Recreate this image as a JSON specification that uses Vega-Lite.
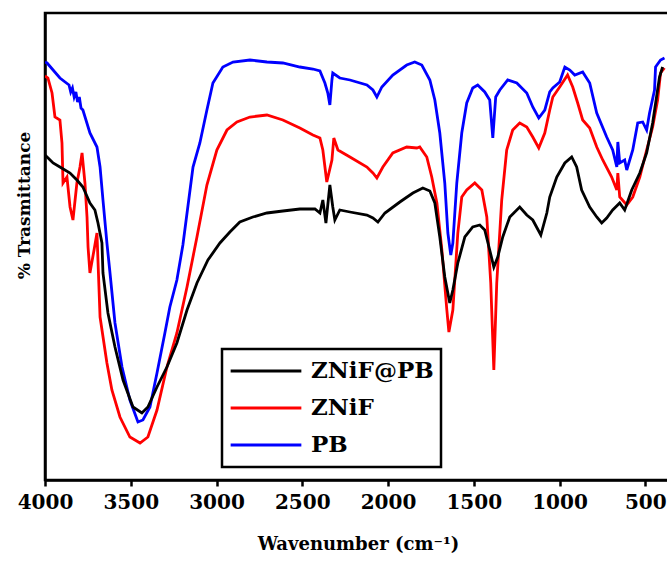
{
  "$schema": "https://vega.github.io/schema/vega-lite/v6.json",
  "width": 626,
  "height": 467,
  "autosize": {"type": "none"},
  "padding": {"left": 45, "top": 13, "right": 0, "bottom": 81},
  "background": "white",
  "config": {
    "view": {"stroke": "black", "strokeWidth": 2.5}
  },
  "datasets": {
    "spec": [
      {"s": "PB", "wn": 4000, "t": 418}, {"s": "PB", "wn": 3988, "t": 417}, {"s": "PB", "wn": 3913, "t": 402},
      {"s": "PB", "wn": 3860, "t": 395}, {"s": "PB", "wn": 3850, "t": 388}, {"s": "PB", "wn": 3840, "t": 392},
      {"s": "PB", "wn": 3830, "t": 383}, {"s": "PB", "wn": 3820, "t": 388}, {"s": "PB", "wn": 3810, "t": 378},
      {"s": "PB", "wn": 3800, "t": 383}, {"s": "PB", "wn": 3790, "t": 372}, {"s": "PB", "wn": 3779, "t": 370},
      {"s": "PB", "wn": 3738, "t": 347}, {"s": "PB", "wn": 3697, "t": 333}, {"s": "PB", "wn": 3679, "t": 313},
      {"s": "PB", "wn": 3662, "t": 280}, {"s": "PB", "wn": 3639, "t": 237}, {"s": "PB", "wn": 3621, "t": 207},
      {"s": "PB", "wn": 3592, "t": 157}, {"s": "PB", "wn": 3551, "t": 113}, {"s": "PB", "wn": 3505, "t": 80},
      {"s": "PB", "wn": 3458, "t": 58}, {"s": "PB", "wn": 3429, "t": 60}, {"s": "PB", "wn": 3388, "t": 73},
      {"s": "PB", "wn": 3347, "t": 107}, {"s": "PB", "wn": 3301, "t": 147}, {"s": "PB", "wn": 3272, "t": 173},
      {"s": "PB", "wn": 3231, "t": 200}, {"s": "PB", "wn": 3196, "t": 235}, {"s": "PB", "wn": 3137, "t": 313},
      {"s": "PB", "wn": 3097, "t": 337}, {"s": "PB", "wn": 3056, "t": 370}, {"s": "PB", "wn": 3021, "t": 397},
      {"s": "PB", "wn": 2963, "t": 413}, {"s": "PB", "wn": 2904, "t": 418}, {"s": "PB", "wn": 2805, "t": 420},
      {"s": "PB", "wn": 2706, "t": 418}, {"s": "PB", "wn": 2613, "t": 417}, {"s": "PB", "wn": 2514, "t": 413},
      {"s": "PB", "wn": 2438, "t": 411}, {"s": "PB", "wn": 2397, "t": 409}, {"s": "PB", "wn": 2368, "t": 397},
      {"s": "PB", "wn": 2351, "t": 387}, {"s": "PB", "wn": 2339, "t": 375}, {"s": "PB", "wn": 2327, "t": 400},
      {"s": "PB", "wn": 2322, "t": 407}, {"s": "PB", "wn": 2281, "t": 402}, {"s": "PB", "wn": 2222, "t": 400},
      {"s": "PB", "wn": 2123, "t": 395}, {"s": "PB", "wn": 2088, "t": 390}, {"s": "PB", "wn": 2065, "t": 383},
      {"s": "PB", "wn": 2036, "t": 393}, {"s": "PB", "wn": 1972, "t": 405}, {"s": "PB", "wn": 1891, "t": 415},
      {"s": "PB", "wn": 1844, "t": 418}, {"s": "PB", "wn": 1803, "t": 415}, {"s": "PB", "wn": 1756, "t": 400},
      {"s": "PB", "wn": 1727, "t": 380}, {"s": "PB", "wn": 1698, "t": 347}, {"s": "PB", "wn": 1669, "t": 297},
      {"s": "PB", "wn": 1651, "t": 247}, {"s": "PB", "wn": 1634, "t": 225}, {"s": "PB", "wn": 1622, "t": 237},
      {"s": "PB", "wn": 1599, "t": 297}, {"s": "PB", "wn": 1570, "t": 347}, {"s": "PB", "wn": 1541, "t": 377},
      {"s": "PB", "wn": 1506, "t": 392}, {"s": "PB", "wn": 1477, "t": 395}, {"s": "PB", "wn": 1436, "t": 388},
      {"s": "PB", "wn": 1407, "t": 380}, {"s": "PB", "wn": 1389, "t": 342}, {"s": "PB", "wn": 1372, "t": 383},
      {"s": "PB", "wn": 1348, "t": 390}, {"s": "PB", "wn": 1302, "t": 400}, {"s": "PB", "wn": 1249, "t": 397},
      {"s": "PB", "wn": 1191, "t": 387}, {"s": "PB", "wn": 1156, "t": 373}, {"s": "PB", "wn": 1121, "t": 362},
      {"s": "PB", "wn": 1086, "t": 370}, {"s": "PB", "wn": 1057, "t": 388}, {"s": "PB", "wn": 1039, "t": 392},
      {"s": "PB", "wn": 999, "t": 398}, {"s": "PB", "wn": 969, "t": 413}, {"s": "PB", "wn": 940, "t": 410},
      {"s": "PB", "wn": 911, "t": 405}, {"s": "PB", "wn": 865, "t": 408}, {"s": "PB", "wn": 824, "t": 397},
      {"s": "PB", "wn": 783, "t": 367}, {"s": "PB", "wn": 725, "t": 343}, {"s": "PB", "wn": 690, "t": 330},
      {"s": "PB", "wn": 666, "t": 313}, {"s": "PB", "wn": 660, "t": 338}, {"s": "PB", "wn": 649, "t": 317},
      {"s": "PB", "wn": 620, "t": 320}, {"s": "PB", "wn": 608, "t": 310}, {"s": "PB", "wn": 573, "t": 330},
      {"s": "PB", "wn": 544, "t": 357}, {"s": "PB", "wn": 515, "t": 358}, {"s": "PB", "wn": 492, "t": 350},
      {"s": "PB", "wn": 475, "t": 367}, {"s": "PB", "wn": 446, "t": 390}, {"s": "PB", "wn": 440, "t": 413},
      {"s": "PB", "wn": 411, "t": 420}, {"s": "PB", "wn": 388, "t": 422},

      {"s": "ZNiF", "wn": 4000, "t": 404}, {"s": "ZNiF", "wn": 3983, "t": 402}, {"s": "ZNiF", "wn": 3959, "t": 387},
      {"s": "ZNiF", "wn": 3942, "t": 363}, {"s": "ZNiF", "wn": 3913, "t": 360}, {"s": "ZNiF", "wn": 3901, "t": 337},
      {"s": "ZNiF", "wn": 3895, "t": 297}, {"s": "ZNiF", "wn": 3872, "t": 303}, {"s": "ZNiF", "wn": 3854, "t": 273},
      {"s": "ZNiF", "wn": 3837, "t": 260}, {"s": "ZNiF", "wn": 3814, "t": 297}, {"s": "ZNiF", "wn": 3796, "t": 313},
      {"s": "ZNiF", "wn": 3784, "t": 327}, {"s": "ZNiF", "wn": 3767, "t": 297}, {"s": "ZNiF", "wn": 3755, "t": 263},
      {"s": "ZNiF", "wn": 3749, "t": 233}, {"s": "ZNiF", "wn": 3738, "t": 207}, {"s": "ZNiF", "wn": 3714, "t": 230},
      {"s": "ZNiF", "wn": 3697, "t": 247}, {"s": "ZNiF", "wn": 3679, "t": 163}, {"s": "ZNiF", "wn": 3639, "t": 117},
      {"s": "ZNiF", "wn": 3610, "t": 90}, {"s": "ZNiF", "wn": 3563, "t": 63}, {"s": "ZNiF", "wn": 3505, "t": 43},
      {"s": "ZNiF", "wn": 3446, "t": 37}, {"s": "ZNiF", "wn": 3400, "t": 43}, {"s": "ZNiF", "wn": 3347, "t": 70},
      {"s": "ZNiF", "wn": 3289, "t": 113}, {"s": "ZNiF", "wn": 3231, "t": 147}, {"s": "ZNiF", "wn": 3172, "t": 193},
      {"s": "ZNiF", "wn": 3114, "t": 243}, {"s": "ZNiF", "wn": 3056, "t": 295}, {"s": "ZNiF", "wn": 2998, "t": 330},
      {"s": "ZNiF", "wn": 2939, "t": 350}, {"s": "ZNiF", "wn": 2881, "t": 358}, {"s": "ZNiF", "wn": 2805, "t": 363},
      {"s": "ZNiF", "wn": 2706, "t": 365}, {"s": "ZNiF", "wn": 2613, "t": 360}, {"s": "ZNiF", "wn": 2514, "t": 352},
      {"s": "ZNiF", "wn": 2438, "t": 345}, {"s": "ZNiF", "wn": 2397, "t": 342}, {"s": "ZNiF", "wn": 2380, "t": 330},
      {"s": "ZNiF", "wn": 2357, "t": 298}, {"s": "ZNiF", "wn": 2327, "t": 320}, {"s": "ZNiF", "wn": 2316, "t": 342},
      {"s": "ZNiF", "wn": 2292, "t": 330}, {"s": "ZNiF", "wn": 2222, "t": 323}, {"s": "ZNiF", "wn": 2123, "t": 313},
      {"s": "ZNiF", "wn": 2088, "t": 307}, {"s": "ZNiF", "wn": 2065, "t": 302}, {"s": "ZNiF", "wn": 2030, "t": 313},
      {"s": "ZNiF", "wn": 1972, "t": 327}, {"s": "ZNiF", "wn": 1891, "t": 333}, {"s": "ZNiF", "wn": 1832, "t": 332},
      {"s": "ZNiF", "wn": 1815, "t": 333}, {"s": "ZNiF", "wn": 1774, "t": 323}, {"s": "ZNiF", "wn": 1745, "t": 303},
      {"s": "ZNiF", "wn": 1715, "t": 277}, {"s": "ZNiF", "wn": 1686, "t": 230}, {"s": "ZNiF", "wn": 1657, "t": 170},
      {"s": "ZNiF", "wn": 1645, "t": 148}, {"s": "ZNiF", "wn": 1622, "t": 170}, {"s": "ZNiF", "wn": 1593, "t": 247},
      {"s": "ZNiF", "wn": 1570, "t": 283}, {"s": "ZNiF", "wn": 1541, "t": 290}, {"s": "ZNiF", "wn": 1494, "t": 297},
      {"s": "ZNiF", "wn": 1453, "t": 290}, {"s": "ZNiF", "wn": 1424, "t": 263}, {"s": "ZNiF", "wn": 1401, "t": 197},
      {"s": "ZNiF", "wn": 1383, "t": 110}, {"s": "ZNiF", "wn": 1366, "t": 197}, {"s": "ZNiF", "wn": 1337, "t": 280},
      {"s": "ZNiF", "wn": 1308, "t": 330}, {"s": "ZNiF", "wn": 1273, "t": 350}, {"s": "ZNiF", "wn": 1232, "t": 357},
      {"s": "ZNiF", "wn": 1191, "t": 353}, {"s": "ZNiF", "wn": 1156, "t": 343}, {"s": "ZNiF", "wn": 1121, "t": 332},
      {"s": "ZNiF", "wn": 1086, "t": 347}, {"s": "ZNiF", "wn": 1057, "t": 370}, {"s": "ZNiF", "wn": 1039, "t": 383},
      {"s": "ZNiF", "wn": 999, "t": 393}, {"s": "ZNiF", "wn": 953, "t": 405}, {"s": "ZNiF", "wn": 923, "t": 393},
      {"s": "ZNiF", "wn": 894, "t": 377}, {"s": "ZNiF", "wn": 865, "t": 360}, {"s": "ZNiF", "wn": 824, "t": 352},
      {"s": "ZNiF", "wn": 783, "t": 333}, {"s": "ZNiF", "wn": 748, "t": 320}, {"s": "ZNiF", "wn": 696, "t": 303},
      {"s": "ZNiF", "wn": 666, "t": 290}, {"s": "ZNiF", "wn": 660, "t": 307}, {"s": "ZNiF", "wn": 649, "t": 283},
      {"s": "ZNiF", "wn": 608, "t": 275}, {"s": "ZNiF", "wn": 573, "t": 283}, {"s": "ZNiF", "wn": 532, "t": 303},
      {"s": "ZNiF", "wn": 492, "t": 330}, {"s": "ZNiF", "wn": 457, "t": 353}, {"s": "ZNiF", "wn": 428, "t": 380},
      {"s": "ZNiF", "wn": 411, "t": 407}, {"s": "ZNiF", "wn": 388, "t": 412},

      {"s": "ZNiF@PB", "wn": 4000, "t": 325}, {"s": "ZNiF@PB", "wn": 3988, "t": 323}, {"s": "ZNiF@PB", "wn": 3953, "t": 317},
      {"s": "ZNiF@PB", "wn": 3913, "t": 313}, {"s": "ZNiF@PB", "wn": 3854, "t": 307}, {"s": "ZNiF@PB", "wn": 3814, "t": 300},
      {"s": "ZNiF@PB", "wn": 3779, "t": 293}, {"s": "ZNiF@PB", "wn": 3738, "t": 277}, {"s": "ZNiF@PB", "wn": 3709, "t": 270},
      {"s": "ZNiF@PB", "wn": 3691, "t": 257}, {"s": "ZNiF@PB", "wn": 3668, "t": 237}, {"s": "ZNiF@PB", "wn": 3662, "t": 207},
      {"s": "ZNiF@PB", "wn": 3633, "t": 167}, {"s": "ZNiF@PB", "wn": 3592, "t": 133}, {"s": "ZNiF@PB", "wn": 3545, "t": 100},
      {"s": "ZNiF@PB", "wn": 3487, "t": 73}, {"s": "ZNiF@PB", "wn": 3435, "t": 67}, {"s": "ZNiF@PB", "wn": 3400, "t": 73},
      {"s": "ZNiF@PB", "wn": 3347, "t": 93}, {"s": "ZNiF@PB", "wn": 3289, "t": 113}, {"s": "ZNiF@PB", "wn": 3231, "t": 137},
      {"s": "ZNiF@PB", "wn": 3172, "t": 170}, {"s": "ZNiF@PB", "wn": 3114, "t": 197}, {"s": "ZNiF@PB", "wn": 3050, "t": 220},
      {"s": "ZNiF@PB", "wn": 2980, "t": 237}, {"s": "ZNiF@PB", "wn": 2922, "t": 248}, {"s": "ZNiF@PB", "wn": 2864, "t": 258},
      {"s": "ZNiF@PB", "wn": 2788, "t": 263}, {"s": "ZNiF@PB", "wn": 2706, "t": 267}, {"s": "ZNiF@PB", "wn": 2613, "t": 269},
      {"s": "ZNiF@PB", "wn": 2514, "t": 271}, {"s": "ZNiF@PB", "wn": 2426, "t": 271}, {"s": "ZNiF@PB", "wn": 2397, "t": 267},
      {"s": "ZNiF@PB", "wn": 2380, "t": 280}, {"s": "ZNiF@PB", "wn": 2362, "t": 257}, {"s": "ZNiF@PB", "wn": 2339, "t": 295},
      {"s": "ZNiF@PB", "wn": 2322, "t": 273}, {"s": "ZNiF@PB", "wn": 2310, "t": 260}, {"s": "ZNiF@PB", "wn": 2281, "t": 270},
      {"s": "ZNiF@PB", "wn": 2222, "t": 268}, {"s": "ZNiF@PB", "wn": 2123, "t": 265}, {"s": "ZNiF@PB", "wn": 2088, "t": 262},
      {"s": "ZNiF@PB", "wn": 2059, "t": 258}, {"s": "ZNiF@PB", "wn": 2018, "t": 267}, {"s": "ZNiF@PB", "wn": 1931, "t": 278},
      {"s": "ZNiF@PB", "wn": 1855, "t": 287}, {"s": "ZNiF@PB", "wn": 1797, "t": 292}, {"s": "ZNiF@PB", "wn": 1756, "t": 289},
      {"s": "ZNiF@PB", "wn": 1727, "t": 277}, {"s": "ZNiF@PB", "wn": 1698, "t": 243}, {"s": "ZNiF@PB", "wn": 1669, "t": 203},
      {"s": "ZNiF@PB", "wn": 1640, "t": 177}, {"s": "ZNiF@PB", "wn": 1622, "t": 190}, {"s": "ZNiF@PB", "wn": 1593, "t": 217},
      {"s": "ZNiF@PB", "wn": 1552, "t": 243}, {"s": "ZNiF@PB", "wn": 1506, "t": 253}, {"s": "ZNiF@PB", "wn": 1465, "t": 255},
      {"s": "ZNiF@PB", "wn": 1436, "t": 250}, {"s": "ZNiF@PB", "wn": 1407, "t": 230}, {"s": "ZNiF@PB", "wn": 1383, "t": 213},
      {"s": "ZNiF@PB", "wn": 1360, "t": 223}, {"s": "ZNiF@PB", "wn": 1331, "t": 243}, {"s": "ZNiF@PB", "wn": 1290, "t": 263},
      {"s": "ZNiF@PB", "wn": 1232, "t": 273}, {"s": "ZNiF@PB", "wn": 1191, "t": 265}, {"s": "ZNiF@PB", "wn": 1156, "t": 260},
      {"s": "ZNiF@PB", "wn": 1109, "t": 245}, {"s": "ZNiF@PB", "wn": 1074, "t": 267}, {"s": "ZNiF@PB", "wn": 1057, "t": 283},
      {"s": "ZNiF@PB", "wn": 1016, "t": 303}, {"s": "ZNiF@PB", "wn": 969, "t": 317}, {"s": "ZNiF@PB", "wn": 929, "t": 323},
      {"s": "ZNiF@PB", "wn": 900, "t": 313}, {"s": "ZNiF@PB", "wn": 871, "t": 290}, {"s": "ZNiF@PB", "wn": 824, "t": 273},
      {"s": "ZNiF@PB", "wn": 783, "t": 263}, {"s": "ZNiF@PB", "wn": 754, "t": 257}, {"s": "ZNiF@PB", "wn": 725, "t": 262},
      {"s": "ZNiF@PB", "wn": 690, "t": 270}, {"s": "ZNiF@PB", "wn": 649, "t": 277}, {"s": "ZNiF@PB", "wn": 620, "t": 270},
      {"s": "ZNiF@PB", "wn": 579, "t": 290}, {"s": "ZNiF@PB", "wn": 532, "t": 307}, {"s": "ZNiF@PB", "wn": 492, "t": 327},
      {"s": "ZNiF@PB", "wn": 457, "t": 357}, {"s": "ZNiF@PB", "wn": 417, "t": 403}, {"s": "ZNiF@PB", "wn": 399, "t": 413}
    ]
  },
  "data": {"name": "spec"},
  "mark": {"type": "line", "strokeWidth": 2.8, "clip": true},
  "encoding": {
    "x": {
      "field": "wn", "type": "quantitative",
      "scale": {"domain": [4000, 350], "nice": false, "zero": false},
      "axis": {
        "values": [4000, 3500, 3000, 2500, 2000, 1500, 1000, 500],
        "format": "d",
        "title": "Wavenumber (cm⁻¹)",
        "grid": false,
        "domainColor": "black", "domainWidth": 2.5,
        "tickColor": "black", "tickWidth": 2.5, "tickSize": 6,
        "labelFont": "DejaVu Serif", "labelFontWeight": "bold", "labelFontSize": 20, "labelColor": "black",
        "labelPadding": 6, "labelFlush": false,
        "titleFont": "DejaVu Serif", "titleFontWeight": "bold", "titleFontSize": 18, "titleColor": "black",
        "titlePadding": 23
      }
    },
    "y": {
      "field": "t", "type": "quantitative",
      "scale": {"domain": [0, 467], "nice": false, "zero": false},
      "axis": {
        "title": "% Trasmittance",
        "grid": false, "ticks": false, "labels": false,
        "domainColor": "black", "domainWidth": 2.5,
        "titleFont": "DejaVu Serif", "titleFontWeight": "bold", "titleFontSize": 17, "titleColor": "black",
        "titlePadding": 12, "titleY": 192
      }
    },
    "color": {
      "field": "s", "type": "nominal",
      "scale": {"domain": ["ZNiF@PB", "ZNiF", "PB"], "range": ["#000000", "#ff0000", "#0000ff"]},
      "legend": {
        "title": null, "orient": "none", "legendX": 177, "legendY": 336,
        "symbolType": "stroke", "symbolSize": 5000, "symbolStrokeWidth": 3, "clipHeight": 30,
        "labelFont": "DejaVu Serif", "labelFontWeight": "bold", "labelFontSize": 23, "labelColor": "black",
        "labelOffset": 8, "rowPadding": 7, "padding": 7,
        "strokeColor": "black", "fillColor": "white",
        "encode": {"legend": {"update": {"strokeWidth": {"value": 2.5}}}}
      }
    }
  }
}
